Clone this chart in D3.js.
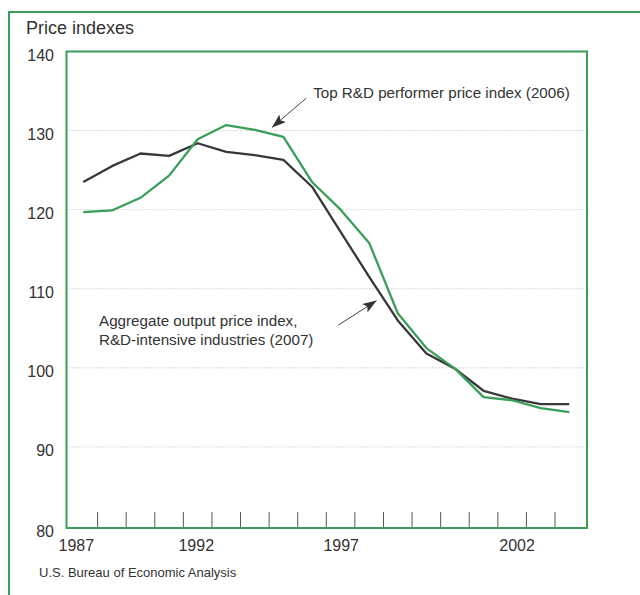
<!DOCTYPE html>
<html>
<head>
<meta charset="utf-8">
<script src="https://cdn.jsdelivr.net/npm/d3@7"></script>
<style>
body { margin: 0; background: #fff; }
text { font-family: "Liberation Sans", Arial, Helvetica, sans-serif; fill: #333; }
</style>
</head>
<body>
<script>
// Data
var years = [1987, 1988, 1989, 1990, 1991, 1992, 1993, 1994, 1995,
             1996, 1997, 1998, 1999, 2000, 2001, 2002, 2003, 2004];
var aggregate = [123.5, 125.5, 127.1, 126.8, 128.4, 127.3, 126.9, 126.3, 122.9,
                 117.2, 111.5, 106.0, 101.8, 99.9, 97.1, 96.1, 95.4, 95.4];
var topRD = [119.7, 119.9, 121.5, 124.3, 128.9, 130.7, 130.1, 129.2, 123.5,
             120.0, 115.8, 106.9, 102.5, 99.9, 96.3, 95.9, 94.9, 94.4];
var yTicks = [80, 90, 100, 110, 120, 130, 140];
var xLabels = [1987, 1992, 1997, 2002];

// Layout
var width = 640, height = 595;
var frame = {left: 66.5, top: 51.5, right: 587, bottom: 528};
var xLabelNudge = [-7, -30, -28, 5]; // labels sit off-centre in the source
var green = "#3a9e59", dark = "#38383c";

var x = d3.scaleLinear().domain([1987, 2004]).range([83.3, 569.3]);
var y = d3.scaleLinear().domain([80, 140]).range([526, 51.5]);

var svg = d3.select("body").append("svg")
  .attr("width", width)
  .attr("height", height);

svg.append("defs").append("marker")
  .attr("id", "arrow")
  .attr("markerUnits", "userSpaceOnUse")
  .attr("markerWidth", 15)
  .attr("markerHeight", 10)
  .attr("refX", 14)
  .attr("refY", 5)
  .attr("orient", "auto")
  .append("path")
  .attr("d", "M0,0 L14,5 L0,10 L3,5 z")
  .attr("fill", "#333");

// Outer box (only left and top edges visible)
svg.append("path")
  .attr("d", "M9," + height + " V12 H" + width)
  .attr("fill", "none")
  .attr("stroke", green)
  .attr("stroke-width", 2);

svg.append("text")
  .attr("x", 26)
  .attr("y", 34)
  .style("font-size", "18px")
  .text("Price indexes");

// Grid
svg.append("g")
  .selectAll("line")
  .data(yTicks.filter(function(d) { return d > 80 && d < 140; }))
  .enter().append("line")
  .attr("x1", frame.left)
  .attr("x2", frame.right)
  .attr("y1", function(d) { return y(d); })
  .attr("y2", function(d) { return y(d); })
  .attr("stroke", "#b8b8b8")
  .attr("stroke-width", 1)
  .attr("stroke-dasharray", "1,2");

// Y labels
svg.append("g")
  .selectAll("text")
  .data(yTicks)
  .enter().append("text")
  .attr("x", 54)
  .attr("y", function(d) { return d == 80 ? frame.bottom + 9 : y(d) + 9; })
  .attr("text-anchor", "end")
  .style("font-size", "16px")
  .text(function(d) { return d; });

// X ticks between years
svg.append("g")
  .selectAll("line")
  .data(years.slice(0, -1))
  .enter().append("line")
  .attr("x1", function(d) { return x(d + 0.5); })
  .attr("x2", function(d) { return x(d + 0.5); })
  .attr("y1", frame.bottom - 16)
  .attr("y2", frame.bottom)
  .attr("stroke", "#555")
  .attr("stroke-width", 1);

svg.append("g")
  .selectAll("text")
  .data(xLabels)
  .enter().append("text")
  .attr("x", function(d, i) { return x(d) + xLabelNudge[i]; })
  .attr("y", 551)
  .attr("text-anchor", "middle")
  .style("font-size", "16px")
  .text(function(d) { return d; });

// Lines
var line = d3.line()
  .x(function(d) { return x(d.year); })
  .y(function(d) { return y(d.value); });

function series(values) {
  return years.map(function(yr, i) { return {year: yr, value: values[i]}; });
}

svg.append("path")
  .datum(series(aggregate))
  .attr("d", line)
  .attr("fill", "none")
  .attr("stroke", dark)
  .attr("stroke-width", 2.3)
  .attr("stroke-linejoin", "round");

svg.append("path")
  .datum(series(topRD))
  .attr("d", line)
  .attr("fill", "none")
  .attr("stroke", green)
  .attr("stroke-width", 2.3)
  .attr("stroke-linejoin", "round");

// Plot frame
svg.append("rect")
  .attr("x", frame.left)
  .attr("y", frame.top)
  .attr("width", frame.right - frame.left)
  .attr("height", frame.bottom - frame.top)
  .attr("fill", "none")
  .attr("stroke", green)
  .attr("stroke-width", 2);

// Annotations (in data units)
var arrows = [
  {from: [1994.8, 134.1], to: [1993.6, 130.4]},
  {from: [1995.92, 105.4], to: [1997.26, 108.5]}
];
svg.append("g")
  .selectAll("line")
  .data(arrows)
  .enter().append("line")
  .attr("x1", function(d) { return x(d.from[0]); })
  .attr("y1", function(d) { return y(d.from[1]); })
  .attr("x2", function(d) { return x(d.to[0]); })
  .attr("y2", function(d) { return y(d.to[1]); })
  .attr("stroke", "#444")
  .attr("stroke-width", 1)
  .attr("marker-end", "url(#arrow)");

svg.append("text")
  .attr("x", x(1995.04))
  .attr("y", 98)
  .style("font-size", "15.2px")
  .text("Top R&D performer price index (2006)");

var agg = svg.append("text")
  .attr("x", x(1987.55))
  .attr("y", 326)
  .style("font-size", "15.2px");
agg.append("tspan").text("Aggregate output price index,");
agg.append("tspan")
  .attr("x", x(1987.55))
  .attr("dy", 19)
  .text("R&D-intensive industries (2007)");

svg.append("text")
  .attr("x", 39)
  .attr("y", 577)
  .style("font-size", "13px")
  .text("U.S. Bureau of Economic Analysis");
</script>
</body>
</html>
